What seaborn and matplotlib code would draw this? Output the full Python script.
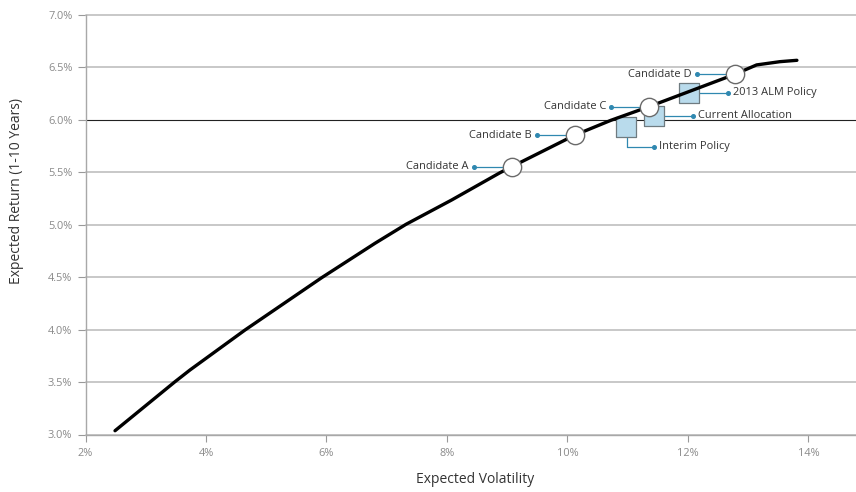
import matplotlib
matplotlib.use("Agg")
import matplotlib.pyplot as plt
import matplotlib.transforms as mtransforms
import pandas as pd
import seaborn as sns

# Efficient frontier (expected volatility %, expected return %)
frontier_vol = [2.49, 3.485, 3.734, 4.647, 5.920, 6.805, 7.320, 8.078, 8.880, 9.074,
                10.124, 10.722, 11.353, 12.780, 13.140, 13.527, 13.809]
frontier_ret = [3.036, 3.503, 3.615, 3.996, 4.495, 4.823, 5.004, 5.236, 5.496, 5.553,
                5.855, 5.996, 6.126, 6.435, 6.524, 6.555, 6.568]

# Candidate portfolios on the frontier
candidate_names = ["Candidate A", "Candidate B", "Candidate C", "Candidate D"]
candidate_vol = [9.074, 10.124, 11.353, 12.780]
candidate_ret = [5.553, 5.855, 6.126, 6.435]

# Current and policy portfolios
policy_names = ["Interim Policy", "Current Allocation", "2013 ALM Policy"]
policy_vol = [10.98, 11.44, 12.02]
policy_ret = [5.93, 6.04, 6.26]

x_ticks = [2, 4, 6, 8, 10, 12, 14]
y_ticks = [3.0, 3.5, 4.0, 4.5, 5.0, 5.5, 6.0, 6.5, 7.0]

sns.set_theme(style="white")
plt.rcParams["font.family"] = ["Open Sans", "DejaVu Sans"]

TEXT = "#333333"
TICK = "#8a8a8a"
GRID = "#c4c4c4"
LEADER = "#2f88b0"
SQUARE = "#b9dbec"

fig = plt.figure(figsize=(8.56, 4.92), dpi=100)
ax = fig.add_axes([85.5 / 856, 1 - 434.5 / 492, 1 - 85.5 / 856, (434.5 - 15) / 492])

frontier = pd.DataFrame({"vol": frontier_vol, "ret": frontier_ret})
candidates = pd.DataFrame({"name": candidate_names, "vol": candidate_vol, "ret": candidate_ret})
policies = pd.DataFrame({"name": policy_names, "vol": policy_vol, "ret": policy_ret})

ax.set_xlim(2, 14.79)
ax.set_ylim(3.0, 7.0)

# horizontal grid, with the 6.0% line emphasised
for y in y_ticks:
    if y == 6.0:
        ax.axhline(y, color="#222222", lw=0.8, zorder=1)
    else:
        ax.axhline(y, color=GRID, lw=1.3, zorder=1, clip_on=False)

sns.scatterplot(data=policies, x="vol", y="ret", marker="s", s=14.5 ** 2,
                color=SQUARE, edgecolor="#6f7b80", linewidth=0.9, zorder=4, ax=ax,
                legend=False)
sns.lineplot(data=frontier, x="vol", y="ret", sort=False, color="black", lw=2.4,
             zorder=5, ax=ax, legend=False)
sns.scatterplot(data=candidates, x="vol", y="ret", marker="o", s=13.2 ** 2,
                color="white", edgecolor="#6a6a6a", linewidth=1.0, zorder=6, ax=ax,
                legend=False)


def px_offset(dx, dy):
    """Data transform shifted by (dx, dy) screen pixels."""
    return ax.transData + mtransforms.ScaledTranslation(dx / 100, dy / 100, fig.dpi_scale_trans)


def leader(x, y, path, side, label):
    """Callout line from a marker through pixel offsets in `path`, ending in a dot and label."""
    pts = [(0, 0)] + path
    for (x0, y0), (x1, y1) in zip(pts[:-1], pts[1:]):
        a = px_offset(x0, y0).transform((x, y))
        b = px_offset(x1, y1).transform((x, y))
        ax.add_line(plt.Line2D([a[0], b[0]], [a[1], b[1]], transform=None,
                               color=LEADER, lw=0.9, zorder=3))
    dx, dy = pts[-1]
    ax.plot([x], [y], marker="o", ms=2.6, color=LEADER, transform=px_offset(dx, dy),
            zorder=3, clip_on=False)
    if side == "left":
        ax.text(x, y, label, transform=px_offset(dx - 5, dy), ha="right", va="center",
                fontsize=7.9, color=TEXT, zorder=7)
    else:
        ax.text(x, y, label, transform=px_offset(dx + 5, dy), ha="left", va="center",
                fontsize=7.9, color=TEXT, zorder=7)


for name, vx, vy in zip(candidate_names, candidate_vol, candidate_ret):
    leader(vx, vy, [(-38, 0)], "left", name)

leader(policy_vol[0], policy_ret[0], [(1, 0), (1, -19.5), (28, -19.5)], "right", policy_names[0])
leader(policy_vol[1], policy_ret[1], [(39, 0)], "right", policy_names[1])
leader(policy_vol[2], policy_ret[2], [(39, 0)], "right", policy_names[2])

ax.set_xticks(x_ticks)
ax.set_xticklabels([f"{v}%" for v in x_ticks])
ax.set_yticks(y_ticks)
ax.set_yticklabels([f"{v:.1f}%" for v in y_ticks])
ax.tick_params(axis="x", direction="out", length=5, width=0.8, color="#999999",
               labelsize=7.9, labelcolor=TICK, pad=5)
ax.tick_params(axis="y", direction="out", length=5.5, width=0.8, color="#999999",
               labelsize=7.9, labelcolor=TICK, pad=4)
ax.tick_params(bottom=True, left=True)

for side in ["top", "right"]:
    ax.spines[side].set_visible(False)
for side in ["left", "bottom"]:
    ax.spines[side].set_color("#a8a8a8")
    ax.spines[side].set_linewidth(1.0)

ax.set_xlabel("Expected Volatility", fontsize=10, color=TEXT)
ax.set_ylabel("Expected Return (1-10 Years)", fontsize=10, color=TEXT)
ax.xaxis.set_label_coords(0.506, -0.090)
ax.yaxis.set_label_coords(-0.080, 0.58)

fig.savefig("out.png", dpi=100)
